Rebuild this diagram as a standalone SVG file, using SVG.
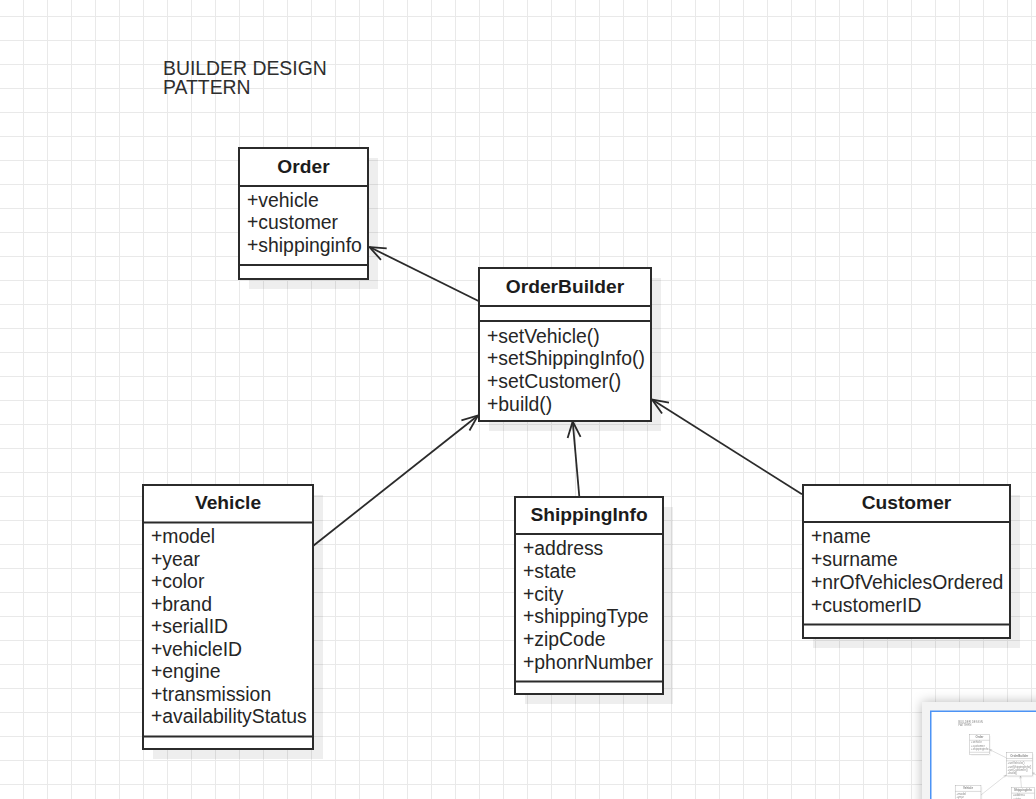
<svg xmlns="http://www.w3.org/2000/svg" xmlns:xlink="http://www.w3.org/1999/xlink" width="1036" height="799" viewBox="0 0 1036 799">
  <style>
    .box { fill: #ffffff; stroke: #2b2b2b; stroke-width: 2; }
    .sep { stroke: #2b2b2b; stroke-width: 2; fill: none; }
    .shadow { fill: #000000; fill-opacity: 0.065; }
    .title { font-family: "Liberation Sans", Arial, sans-serif; font-size: 19.2px; font-weight: bold; fill: #1c1c1c; text-anchor: middle; }
    .attr { font-family: "Liberation Sans", Arial, sans-serif; font-size: 19.4px; fill: #262626; }
    .heading { font-family: "Liberation Sans", Arial, sans-serif; font-size: 19.4px; fill: #2e2e2e; }
    .edge { stroke: #2b2b2b; stroke-width: 1.8; fill: none; marker-end: url(#open); }
  </style>
  <defs>
    <pattern id="grid" x="23" y="16" width="24" height="24" patternUnits="userSpaceOnUse">
      <path d="M0 0.5 H24 M0.5 0 V24" stroke="#e9e9e9" stroke-width="1" fill="none"/>
    </pattern>
    <marker id="open" markerUnits="userSpaceOnUse" viewBox="-20 -10 22 20" refX="0" refY="0" markerWidth="22" markerHeight="20" orient="auto" overflow="visible">
      <path d="M-16,-6.5 L0,0 L-16,6.5" fill="none" stroke="#2b2b2b" stroke-width="1.8"/>
    </marker>
    <filter id="blur" x="-20%" y="-20%" width="140%" height="140%">
      <feGaussianBlur stdDeviation="6"/>
    </filter>
    <clipPath id="miniClip">
      <rect x="931" y="712" width="105" height="87"/>
    </clipPath>
  </defs>

  <rect x="0" y="0" width="1036" height="799" fill="#ffffff"/>
  <rect x="0" y="0" width="1036" height="799" fill="url(#grid)"/>

  <g id="diagram">
    <g id="title">
      <text class="heading" x="163" y="75.3">BUILDER DESIGN<tspan x="163" dy="18.7">PATTERN</tspan></text>
    </g>

    <g id="connectors">
      <line class="edge" x1="478.5" y1="301" x2="369.5" y2="247"/>
      <line class="edge" x1="313" y1="546" x2="478" y2="415.5"/>
      <line class="edge" x1="579.3" y1="496.5" x2="572.7" y2="421.5"/>
      <line class="edge" x1="802" y1="494.3" x2="652" y2="399.5"/>
    </g>

    <g id="order">
      <rect class="shadow" x="249" y="158" width="129" height="131"/>
      <rect class="box" x="239" y="148" width="129" height="131"/>
      <line class="sep" x1="239" y1="186" x2="368" y2="186"/>
      <line class="sep" x1="239" y1="265" x2="368" y2="265"/>
      <text class="title" x="303.5" y="172.7">Order</text>
      <text class="attr" x="247" y="206.7">+vehicle</text>
      <text class="attr" x="247" y="229.3">+customer</text>
      <text class="attr" x="247" y="252">+shippinginfo</text>
    </g>

    <g id="orderbuilder">
      <rect class="shadow" x="489" y="278" width="172" height="153"/>
      <rect class="box" x="479" y="268" width="172" height="153"/>
      <line class="sep" x1="479" y1="306" x2="651" y2="306"/>
      <line class="sep" x1="479" y1="321" x2="651" y2="321"/>
      <text class="title" x="565" y="293.3">OrderBuilder</text>
      <text class="attr" x="487" y="342.7">+setVehicle()</text>
      <text class="attr" x="487" y="365.3">+setShippingInfo()</text>
      <text class="attr" x="487" y="388">+setCustomer()</text>
      <text class="attr" x="487" y="410.6">+build()</text>
    </g>

    <g id="vehicle">
      <rect class="shadow" x="153" y="495" width="170" height="264"/>
      <rect class="box" x="143" y="485" width="170" height="264"/>
      <line class="sep" x1="143" y1="522.5" x2="313" y2="522.5"/>
      <line class="sep" x1="143" y1="736.5" x2="313" y2="736.5"/>
      <text class="title" x="228" y="508.6">Vehicle</text>
      <text class="attr" x="151" y="543.3">+model</text>
      <text class="attr" x="151" y="565.8">+year</text>
      <text class="attr" x="151" y="588.3">+color</text>
      <text class="attr" x="151" y="610.8">+brand</text>
      <text class="attr" x="151" y="633.3">+serialID</text>
      <text class="attr" x="151" y="655.8">+vehicleID</text>
      <text class="attr" x="151" y="678.3">+engine</text>
      <text class="attr" x="151" y="700.8">+transmission</text>
      <text class="attr" x="151" y="723.3">+availabilityStatus</text>
    </g>

    <g id="shippinginfo">
      <rect class="shadow" x="525" y="507" width="148" height="197"/>
      <rect class="box" x="515" y="497" width="148" height="197"/>
      <line class="sep" x1="515" y1="534" x2="663" y2="534"/>
      <line class="sep" x1="515" y1="681.5" x2="663" y2="681.5"/>
      <text class="title" x="589" y="521">ShippingInfo</text>
      <text class="attr" x="523" y="555">+address</text>
      <text class="attr" x="523" y="577.8">+state</text>
      <text class="attr" x="523" y="600.6">+city</text>
      <text class="attr" x="523" y="623.4">+shippingType</text>
      <text class="attr" x="523" y="646.2">+zipCode</text>
      <text class="attr" x="523" y="669">+phonrNumber</text>
    </g>

    <g id="customer">
      <rect class="shadow" x="813" y="495" width="207" height="153"/>
      <rect class="box" x="803" y="485" width="207" height="153"/>
      <line class="sep" x1="803" y1="522" x2="1010" y2="522"/>
      <line class="sep" x1="803" y1="624.5" x2="1010" y2="624.5"/>
      <text class="title" x="906.5" y="509.3">Customer</text>
      <text class="attr" x="811" y="543.3">+name</text>
      <text class="attr" x="811" y="566.1">+surname</text>
      <text class="attr" x="811" y="588.9">+nrOfVehiclesOrdered</text>
      <text class="attr" x="811" y="611.7">+customerID</text>
    </g>
  </g>

  <g id="minimap">
    <rect x="922" y="702" width="140" height="120" fill="#000000" fill-opacity="0.28" filter="url(#blur)"/>
    <rect x="922" y="702" width="140" height="120" fill="#f3f3f3"/>
    <rect x="930.75" y="711.25" width="130" height="110" fill="#ffffff" stroke="#4c93f5" stroke-width="1.5"/>
    <g clip-path="url(#miniClip)" opacity="0.55">
      <use xlink:href="#diagram" href="#diagram" transform="translate(933.4,712) scale(0.152)"/>
    </g>
  </g>
</svg>
